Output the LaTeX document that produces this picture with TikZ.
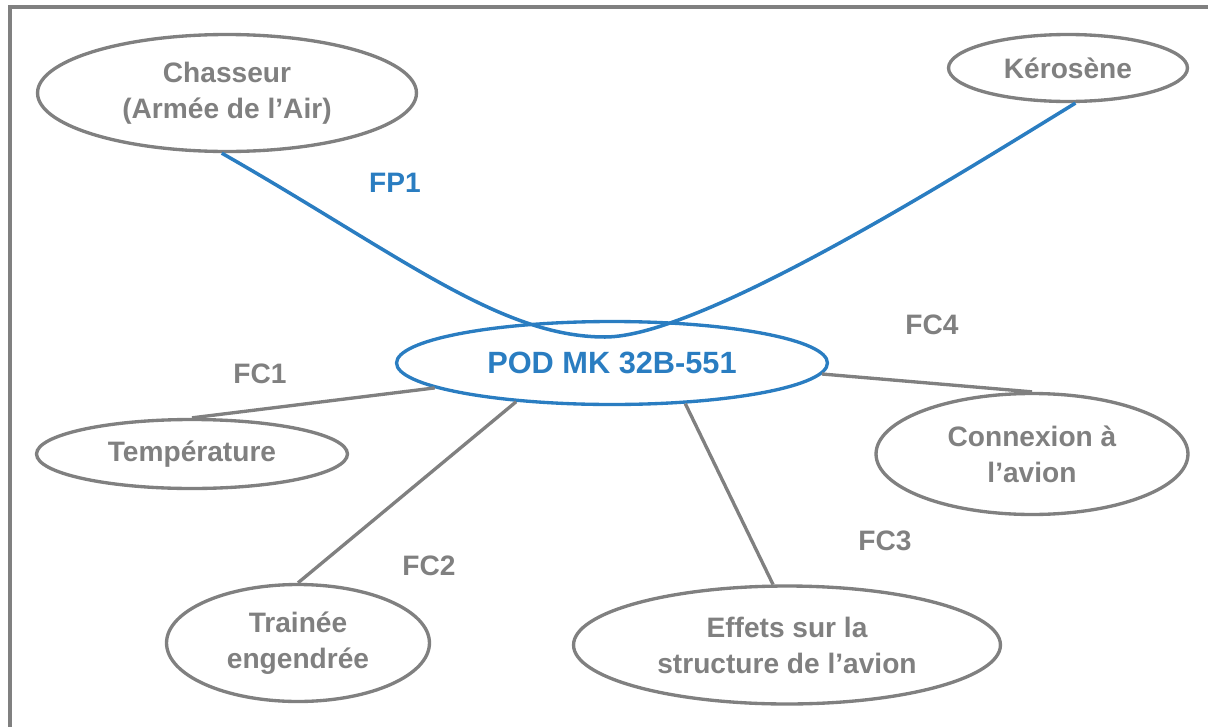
\documentclass[tikz,border=0pt]{standalone}
\usepackage{fontspec}
\setmainfont{Liberation Sans}
\usetikzlibrary{shapes.geometric}
\definecolor{podblue}{RGB}{42,125,193}
\definecolor{podgray}{RGB}{128,128,128}

\begin{document}
\begin{tikzpicture}[x=0.02cm, y=0.02cm,
    bubble/.style={ellipse, draw=podgray, line width=1.9pt, text=podgray,
      inner sep=0pt, align=center, font=\fontsize{16}{20.5}\selectfont\bfseries},
    podbubble/.style={bubble, draw=podblue, text=podblue,
      font=\fontsize{17.5}{21}\selectfont\bfseries},
    link/.style={draw=podgray, line width=1.9pt},
    mainlink/.style={draw=podblue, line width=2pt},
    fclabel/.style={text=podgray, font=\fontsize{16}{20}\selectfont\bfseries}]
  \useasboundingbox (0,0) rectangle (1208,-727);
  \draw[podgray, line width=2.2pt] (1208,-7) -- (10,-7) -- (10,-727);

  \node[bubble, minimum width=7.58cm, minimum height=2.34cm] (chasseur) at (227,-93)
    {Chasseur\\(Armée de l’Air)};
  \node[bubble, minimum width=4.78cm, minimum height=1.34cm] (kerosene) at (1068,-68)
    {Kérosène};
  \node[podbubble, minimum width=8.62cm, minimum height=1.66cm] (pod) at (612,-363)
    {POD MK 32B-551};
  \node[bubble, minimum width=6.22cm, minimum height=1.38cm] (temp) at (192,-454)
    {Température};
  \node[bubble, minimum width=5.26cm, minimum height=2.34cm] (trainee) at (298,-643)
    {Trainée\\engendrée};
  \node[bubble, minimum width=8.54cm, minimum height=2.36cm] (effets) at (787,-645)
    {Effets sur la\\structure de l’avion};
  \node[bubble, minimum width=6.24cm, minimum height=2.42cm] (connexion) at (1032,-454)
    {Connexion à\\l’avion};

  \coordinate (dip) at (605,-337);
  \draw[mainlink] (chasseur.265) .. controls (400,-255) and (500,-337) .. (dip)
    .. controls (700,-337) and (950,-180) .. (kerosene.-78);
  \draw[link] (temp.north) -- (pod.188);
  \draw[link] (trainee.north) -- (pod.202);
  \draw[link] (effets.103) -- (pod.-29);
  \draw[link] (pod.-3) -- (connexion.north);

  \node[fclabel, text=podblue] (fp1) at (395,-183) {FP1};
  \node[fclabel] (fc1) at (260,-374) {FC1};
  \node[fclabel] (fc2) at (429,-566) {FC2};
  \node[fclabel] (fc3) at (885,-541) {FC3};
  \node[fclabel] (fc4) at (932,-325) {FC4};
\end{tikzpicture}
\end{document}
